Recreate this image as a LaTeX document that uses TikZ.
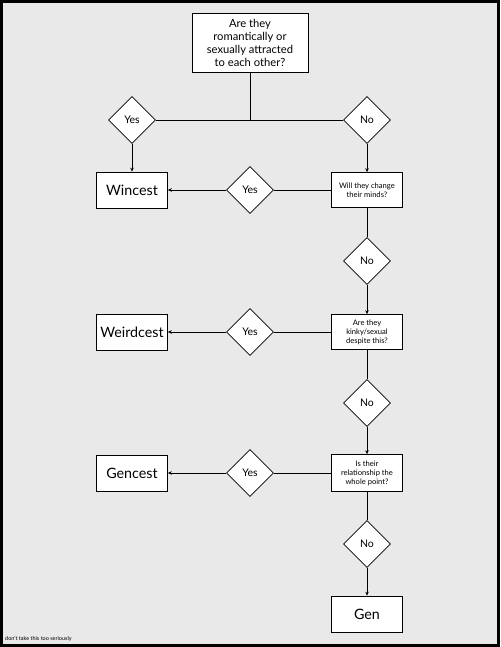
\documentclass[tikz,border=0pt]{standalone}
\usepackage{fontspec}
\setmainfont{Lato}
\usetikzlibrary{shapes.geometric,arrows.meta}
\definecolor{paper}{HTML}{E9E9E9}
\tikzset{
	askbox/.style={rectangle, draw=black, line width=0.7pt, fill=white,
		minimum width=71pt, minimum height=35pt, align=center,
		font=\fontsize{7.6}{9}\selectfont, inner sep=1pt},
	endbox/.style={askbox, minimum height=36pt, font=\fontsize{14.3}{16}\selectfont},
	choice/.style={diamond, draw=black, line width=0.7pt, fill=white,
		minimum width=47pt, minimum height=47pt, inner sep=0pt,
		font=\fontsize{10.5}{12}\selectfont},
	flowarr/.style={-{Stealth[length=4pt,width=3.5pt]}, line width=0.7pt},
	flowline/.style={line width=0.7pt}
}
\begin{document}
\begin{tikzpicture}[x=1pt,y=-1pt]
	\fill[black] (0,0) rectangle (500,647);
	\fill[paper] (3,3) rectangle (497,644);
	\useasboundingbox (0,0) rectangle (500,647);
	% first question
	\node[askbox, minimum width=116pt, minimum height=59pt, font=\fontsize{11.2}{13}\selectfont] (attr) at (250,43) {Are they\\romantically or\\sexually attracted\\to each other?};
	\node[choice] (yes0) at (132,120) {Yes};
	\node[choice] (no0) at (367,120) {No};
	\draw[flowline] (attr.south) -- (attr.south |- no0.west);
	\draw[flowline] (yes0.east) -- (no0.west);
	% tier 1
	\node[endbox] (win) at (132,190) {Wincest};
	\node[askbox] (change) at (367,190) {Will they change\\their minds?};
	\node[choice] (yes1) at (250,190) {Yes};
	\node[choice] (no1) at (367,261) {No};
	\draw[flowarr] (yes0) -- (win);
	\draw[flowarr] (no0) -- (change);
	\draw[flowline] (change) -- (yes1);
	\draw[flowarr] (yes1) -- (win);
	\draw[flowline] (change) -- (no1);
	% tier 2
	\node[endbox] (weird) at (132,332) {Weirdcest};
	\node[askbox] (kinky) at (367,332) {Are they\\kinky/sexual\\despite this?};
	\node[choice] (yes2) at (250,332) {Yes};
	\node[choice] (no2) at (367,403) {No};
	\draw[flowarr] (no1) -- (kinky);
	\draw[flowline] (kinky) -- (yes2);
	\draw[flowarr] (yes2) -- (weird);
	\draw[flowline] (kinky) -- (no2);
	% tier 3
	\node[endbox] (genc) at (132,473) {Gencest};
	\node[askbox, minimum height=37pt] (point) at (367,473) {Is their\\relationship the\\whole point?};
	\node[choice] (yes3) at (250,473) {Yes};
	\node[choice] (no3) at (367,544) {No};
	\draw[flowarr] (no2) -- (point);
	\draw[flowline] (point) -- (yes3);
	\draw[flowarr] (yes3) -- (genc);
	\draw[flowline] (point) -- (no3);
	% end
	\node[endbox] (gen) at (367,614) {Gen};
	\draw[flowarr] (no3) -- (gen);
	\node[anchor=west, font=\fontsize{5.5}{6}\selectfont, inner sep=0pt] (note) at (5,639) {don't take this too seriously};
\end{tikzpicture}
\end{document}
